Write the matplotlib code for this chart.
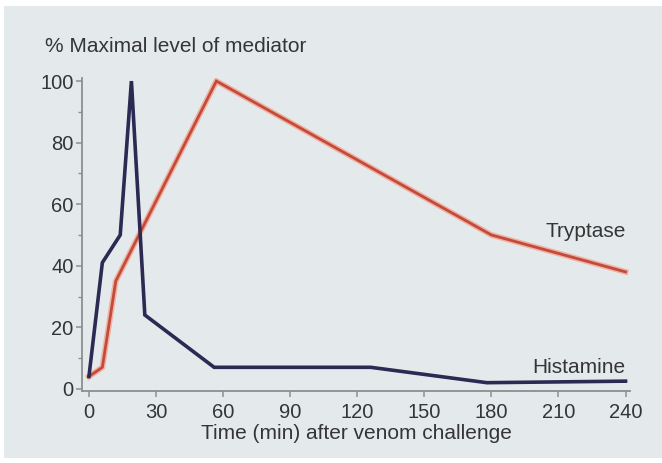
import numpy as np
import matplotlib
matplotlib.use('Agg')
import matplotlib.pyplot as plt
from matplotlib.patches import Rectangle

# ── data: % of maximal mediator level after venom challenge ──
hist_t   = [0, 6, 14, 19, 25, 56, 126, 178, 240]
hist_pct = [4, 41, 50, 100, 24, 7, 7, 2, 2.5]

tryp_t   = [0, 6, 12, 57, 180, 240]
tryp_pct = [4, 7, 35, 100, 50, 38]

x_ticks = [0, 30, 60, 90, 120, 150, 180, 210, 240]
y_ticks = [0, 20, 40, 60, 80, 100]

# ── style ──
plt.rcParams['font.family'] = ['Liberation Sans', 'DejaVu Sans']
BG       = "#e4eaec"
AXIS_CLR = "#8a8f92"
TXT_CLR  = "#353535"
HIST_CLR = "#2c2952"
TRYP_CLR = "#c24b3b"
TRYP_GLOW = "#f3a491"

fig = plt.figure(figsize=(6.62, 4.63), dpi=100, facecolor="white")
# panel background with a thin white margin
fig.patches.append(Rectangle((4/662, 5/463), 1 - 4/662, 1 - 11/463,
                             transform=fig.transFigure, facecolor=BG,
                             edgecolor="none", zorder=-10))

ax = fig.add_axes([82/662, 1 - 391/463, (630 - 82)/662, (391 - 78)/463])
ax.set_facecolor("none")

# tryptase: soft halo under a darker core
ax.plot(tryp_t, tryp_pct, color=TRYP_GLOW, lw=4.2, solid_joinstyle="miter",
        alpha=0.8, zorder=2)
ax.plot(tryp_t, tryp_pct, color=TRYP_CLR, lw=2.0, solid_joinstyle="miter",
        zorder=3)
ax.plot(hist_t, hist_pct, color=HIST_CLR, lw=2.6, solid_joinstyle="miter",
        zorder=4)

ax.set_xlim(-3.1, 242)
ax.set_ylim(-0.7, 101)
ax.set_xticks(x_ticks)
ax.set_yticks(y_ticks)
ax.set_yticks(np.arange(10, 100, 20), minor=True)

for side in ("top", "right"):
    ax.spines[side].set_visible(False)
for side in ("left", "bottom"):
    ax.spines[side].set_color(AXIS_CLR)
    ax.spines[side].set_linewidth(1.3)

ax.tick_params(axis="both", which="major", direction="out", length=4,
               width=1.1, color=AXIS_CLR, labelsize=14.5, labelcolor=TXT_CLR)
ax.tick_params(axis="x", which="major", pad=5)
ax.tick_params(axis="y", which="major", pad=2)
ax.tick_params(axis="y", which="minor", direction="out", length=3,
               width=1.0, color=AXIS_CLR)

ax.set_xlabel("Time (min) after venom challenge", fontsize=15,
              color=TXT_CLR, labelpad=1)
fig.text(45/662, 1 - 47/463, "% Maximal level of mediator", fontsize=15,
         color=TXT_CLR, ha="left", va="center")

# series labels
ax.text(240, 51, "Tryptase", fontsize=15, color=TXT_CLR,
        ha="right", va="center")
ax.text(240, 7, "Histamine", fontsize=15, color=TXT_CLR,
        ha="right", va="center")

plt.savefig("out.png", dpi=100, facecolor=fig.get_facecolor())
plt.close()
